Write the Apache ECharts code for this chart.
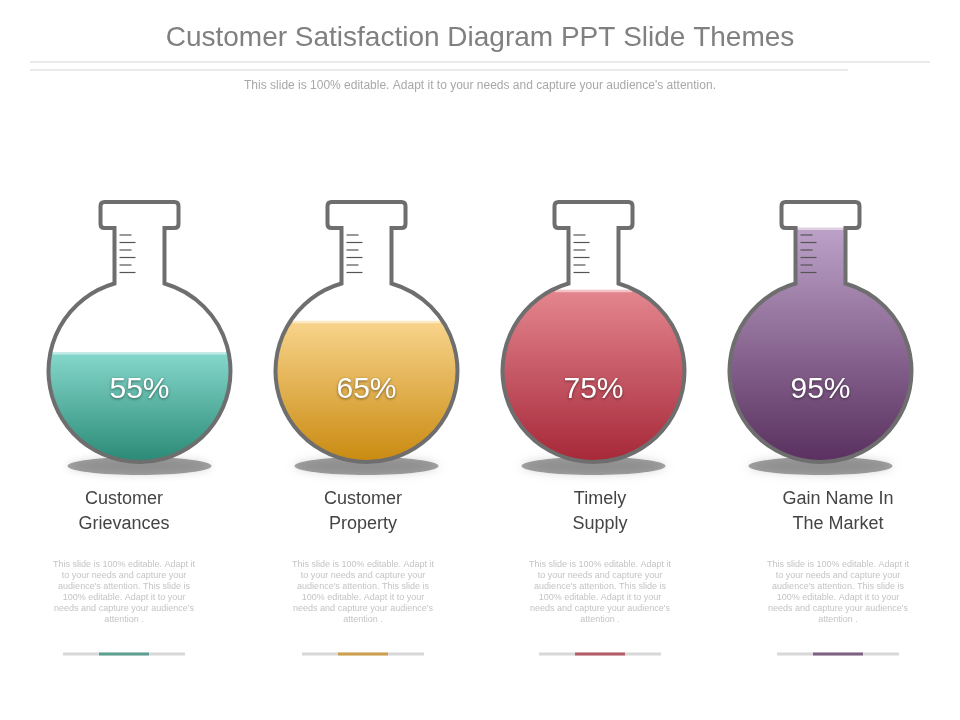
<!DOCTYPE html>
<html>
<head>
<meta charset="utf-8">
<title>Customer Satisfaction Diagram</title>
<script src="https://cdn.jsdelivr.net/npm/echarts@6/dist/echarts.min.js"></script>
</head>
<body style="margin:0;background:#fff">
<div id="chart" style="width:960px;height:720px;"></div>
<script>
var categories = ['Customer\nGrievances', 'Customer\nProperty', 'Timely\nSupply', 'Gain Name In\nThe Market'];
var values = [55, 65, 75, 95];
var topColors = ['#86d8cc', '#f8d48c', '#e4868f', '#bda2c8'];
var bottomColors = ['#2a8a76', '#c98a10', '#a62838', '#59305f'];
var bodyText = "This slide is 100% editable. Adapt it\nto your needs and capture your\naudience's attention. This slide is\n100% editable. Adapt it to your\nneeds and capture your audience's\nattention .";

var myChart = echarts.init(document.getElementById('chart'));

function flask(params, api) {
  var i = api.value(0);
  var cx = api.coord([i, 0])[0];
  var bottom = 462;
  var lvl = api.coord([i, api.value(1)])[1];
  var r = 91, cy = bottom - r, n = 25, neckTop = 228;
  var yj = cy - Math.sqrt(r * r - n * n);
  var liquid;
  if (lvl >= yj) {
    var w = Math.sqrt(Math.max(0, r * r - (lvl - cy) * (lvl - cy)));
    var large = lvl < cy ? 1 : 0;
    liquid = 'M' + (cx - w) + ' ' + lvl + ' L' + (cx + w) + ' ' + lvl +
      ' A' + r + ' ' + r + ' 0 ' + large + ' 1 ' + (cx - w) + ' ' + lvl + ' Z';
  } else {
    liquid = 'M' + (cx - n) + ' ' + lvl + ' L' + (cx + n) + ' ' + lvl + ' L' + (cx + n) + ' ' + yj +
      ' A' + r + ' ' + r + ' 0 1 1 ' + (cx - n) + ' ' + yj + ' Z';
  }
  var outline = 'M' + (cx - n) + ' ' + neckTop + ' L' + (cx - n) + ' ' + yj +
    ' A' + r + ' ' + r + ' 0 1 0 ' + (cx + n) + ' ' + yj + ' L' + (cx + n) + ' ' + neckTop +
    ' L' + (cx + 35) + ' ' + neckTop + ' Q' + (cx + 39) + ' ' + neckTop + ' ' + (cx + 39) + ' ' + (neckTop - 4) +
    ' L' + (cx + 39) + ' 206 Q' + (cx + 39) + ' 202 ' + (cx + 35) + ' 202' +
    ' L' + (cx - 35) + ' 202 Q' + (cx - 39) + ' 202 ' + (cx - 39) + ' 206' +
    ' L' + (cx - 39) + ' ' + (neckTop - 4) + ' Q' + (cx - 39) + ' ' + neckTop + ' ' + (cx - 35) + ' ' + neckTop + ' Z';
  var idx = params.dataIndex;
  var hw = lvl >= yj ? Math.sqrt(Math.max(0, r * r - (lvl - cy) * (lvl - cy))) : n;
  var children = [
    { type: 'ellipse', shape: { cx: cx, cy: bottom + 4, rx: 72, ry: 9 },
      style: { fill: 'rgba(0,0,0,0.35)', shadowBlur: 8, shadowColor: 'rgba(0,0,0,0.4)' } },
    { type: 'circle', shape: { cx: cx, cy: cy, r: r }, style: { fill: '#fff' } },
    { type: 'rect', shape: { x: cx - n, y: neckTop - 2, width: 2 * n, height: yj - neckTop + 10 }, style: { fill: '#fff' } },
    { type: 'path', shape: { pathData: liquid },
      style: { fill: new echarts.graphic.LinearGradient(0, 0, 0, 1, [
        { offset: 0, color: topColors[idx] }, { offset: 1, color: bottomColors[idx] }]) } },
    { type: 'line', shape: { x1: cx - hw + 2, y1: lvl + 1, x2: cx + hw - 2, y2: lvl + 1 },
      style: { stroke: 'rgba(255,255,255,0.5)', lineWidth: 3 } }
  ];
  for (var k = 0; k < 6; k++) {
    children.push({ type: 'line', shape: { x1: cx - 20, y1: 235 + k * 7.5, x2: cx - 4 - (k % 2 ? 0 : 4), y2: 235 + k * 7.5 },
      style: { stroke: '#555', lineWidth: 1.2 } });
  }
  children.push({ type: 'path', shape: { pathData: outline }, style: { fill: 'none', stroke: '#6e6e6e', lineWidth: 4 } });
  children.push({ type: 'text', style: { text: api.value(1) + '%', x: cx, y: cy + 19, align: 'center', verticalAlign: 'middle',
    fill: '#fff', font: '30px "Liberation Sans", Arial', textShadowColor: 'rgba(0,0,0,0.5)', textShadowBlur: 3, textShadowOffsetY: 1 } });
  return { type: 'group', children: children };
}

var graphics = [
  { type: 'text', style: { text: 'Customer Satisfaction Diagram PPT Slide Themes', x: 480, y: 38, align: 'center', verticalAlign: 'middle',
    fill: '#808080', font: '28px "Liberation Sans", Arial' } },
  { type: 'line', shape: { x1: 30, y1: 62, x2: 930, y2: 62 }, style: { stroke: '#d4d4d4', lineWidth: 1 } },
  { type: 'line', shape: { x1: 30, y1: 70, x2: 848, y2: 70 }, style: { stroke: '#d4d4d4', lineWidth: 1 } },
  { type: 'text', style: { text: "This slide is 100% editable. Adapt it to your needs and capture your audience's attention.", x: 480, y: 86,
    align: 'center', verticalAlign: 'middle', fill: '#a8a8a8', font: '12px "Liberation Sans", Arial' } }
];
var textCenters = [124, 363, 600, 838];
for (var i = 0; i < categories.length; i++) {
  var tx = textCenters[i];
  graphics.push({ type: 'text', style: { text: categories[i], x: tx, y: 512, align: 'center', verticalAlign: 'middle',
    fill: '#444', font: '18px "Liberation Sans", Arial', lineHeight: 25 } });
  graphics.push({ type: 'text', style: { text: bodyText, x: tx, y: 592, align: 'center', verticalAlign: 'middle',
    fill: '#c4c4c4', font: '9px "Liberation Sans", Arial', lineHeight: 11 } });
  graphics.push({ type: 'line', shape: { x1: tx - 61, y1: 654, x2: tx + 61, y2: 654 }, style: { stroke: '#d8d8d8', lineWidth: 3 } });
  graphics.push({ type: 'line', shape: { x1: tx - 25, y1: 654, x2: tx + 25, y2: 654 }, style: { stroke: bottomColors[i], lineWidth: 3, opacity: 0.7 } });
}

var option = {
  animation: false,
  grid: { left: 26, right: 26, top: 212, bottom: 197 },
  xAxis: { type: 'category', data: categories, show: false },
  yAxis: { type: 'value', min: 0, max: 100, show: false },
  graphic: graphics,
  series: [{
    type: 'custom',
    renderItem: flask,
    data: values.map(function (v, i) { return [i, v]; })
  }]
};
myChart.setOption(option);
</script>
</body>
</html>
